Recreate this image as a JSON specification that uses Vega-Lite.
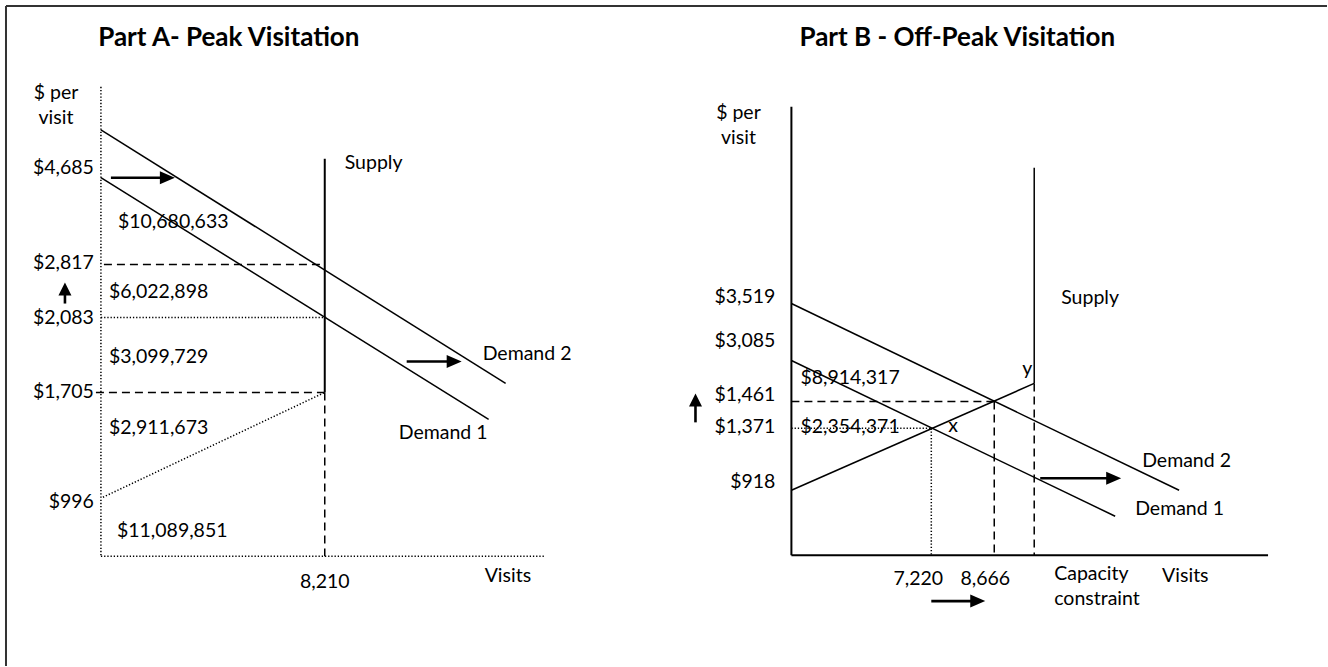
{
  "$schema": "https://vega.github.io/schema/vega-lite/v6.json",
  "width": 1328,
  "height": 667,
  "padding": 0,
  "autosize": {"type": "fit", "contains": "padding"},
  "background": "white",
  "config": {"view": {"stroke": null}},
  "datasets": {
    "segments": [
      {"panel": "frame", "kind": "border", "x": 6, "y": 6, "x2": 1328, "y2": 6},
      {"panel": "frame", "kind": "border", "x": 6, "y": 6, "x2": 6, "y2": 667},
      {"panel": "A", "kind": "dotted", "x": 101, "y": 87, "x2": 101, "y2": 557},
      {"panel": "A", "kind": "dotted", "x": 101, "y": 557, "x2": 545, "y2": 557},
      {"panel": "A", "kind": "solid", "x": 101, "y": 130, "x2": 506, "y2": 384},
      {"panel": "A", "kind": "solid", "x": 101, "y": 178, "x2": 489, "y2": 420},
      {"panel": "A", "kind": "thick", "x": 325, "y": 159, "x2": 325, "y2": 393},
      {"panel": "A", "kind": "dashed", "x": 325, "y": 393, "x2": 325, "y2": 557},
      {"panel": "A", "kind": "dashed", "x": 104, "y": 265, "x2": 325, "y2": 265},
      {"panel": "A", "kind": "dotted", "x": 101, "y": 318, "x2": 328, "y2": 318},
      {"panel": "A", "kind": "dashed", "x": 96, "y": 393, "x2": 325, "y2": 393},
      {"panel": "A", "kind": "dotted", "x": 103, "y": 498, "x2": 325, "y2": 393},
      {"panel": "B", "kind": "thick", "x": 792, "y": 107, "x2": 792, "y2": 556},
      {"panel": "B", "kind": "thick", "x": 792, "y": 556, "x2": 1269, "y2": 556},
      {"panel": "B", "kind": "solid", "x": 792, "y": 304, "x2": 1180, "y2": 491},
      {"panel": "B", "kind": "solid", "x": 792, "y": 361, "x2": 1116, "y2": 517},
      {"panel": "B", "kind": "solid", "x": 792, "y": 491, "x2": 1035, "y2": 384},
      {"panel": "B", "kind": "solid", "x": 1035, "y": 168, "x2": 1035, "y2": 384},
      {"panel": "B", "kind": "dashed", "x": 1035, "y": 384, "x2": 1035, "y2": 556},
      {"panel": "B", "kind": "dashed", "x": 792, "y": 402, "x2": 995, "y2": 402},
      {"panel": "B", "kind": "dashed", "x": 995, "y": 402, "x2": 995, "y2": 556},
      {"panel": "B", "kind": "dotted", "x": 792, "y": 429, "x2": 932, "y2": 429},
      {"panel": "B", "kind": "dotted", "x": 932, "y": 429, "x2": 932, "y2": 556},
      {"panel": "A", "kind": "arrow", "x": 111, "y": 178, "x2": 166, "y2": 178},
      {"panel": "A", "kind": "arrow", "x": 407, "y": 362, "x2": 454, "y2": 362},
      {"panel": "A", "kind": "arrow", "x": 65, "y": 304, "x2": 65, "y2": 290},
      {"panel": "B", "kind": "arrow", "x": 696, "y": 423, "x2": 696, "y2": 401},
      {"panel": "B", "kind": "arrow", "x": 1041, "y": 479, "x2": 1114, "y2": 479},
      {"panel": "B", "kind": "arrow", "x": 932, "y": 602, "x2": 978, "y2": 602}
    ],
    "heads": [
      {"dir": "right", "x": 167.5, "y": 178},
      {"dir": "right", "x": 454.5, "y": 362},
      {"dir": "up", "x": 65, "y": 289.5},
      {"dir": "up", "x": 696, "y": 400.5},
      {"dir": "right", "x": 1114.5, "y": 479},
      {"dir": "right", "x": 978.5, "y": 602}
    ],
    "labels": [
      {"style": "title", "text": "Part A- Peak Visitation", "x": 229, "y": 38},
      {"style": "title", "text": "Part B - Off-Peak Visitation", "x": 958, "y": 38},
      {"style": "right", "text": "$4,685", "x": 94, "y": 168},
      {"style": "right", "text": "$2,817", "x": 94, "y": 263},
      {"style": "right", "text": "$2,083", "x": 94, "y": 318},
      {"style": "right", "text": "$1,705", "x": 94, "y": 393},
      {"style": "right", "text": "$996", "x": 94, "y": 503},
      {"style": "right", "text": "$3,519", "x": 776, "y": 297},
      {"style": "right", "text": "$3,085", "x": 776, "y": 342},
      {"style": "right", "text": "$1,461", "x": 776, "y": 396},
      {"style": "right", "text": "$1,371", "x": 776, "y": 428},
      {"style": "right", "text": "$918", "x": 776, "y": 483},
      {"style": "left", "text": "$10,680,633", "x": 118, "y": 222},
      {"style": "left", "text": "$6,022,898", "x": 109, "y": 292},
      {"style": "left", "text": "$3,099,729", "x": 109, "y": 358},
      {"style": "left", "text": "$2,911,673", "x": 109, "y": 429},
      {"style": "left", "text": "$11,089,851", "x": 117, "y": 532},
      {"style": "left", "text": "Supply", "x": 345, "y": 163},
      {"style": "left", "text": "Demand 2", "x": 483, "y": 355},
      {"style": "left", "text": "Demand 1", "x": 399, "y": 434},
      {"style": "left", "text": "Visits", "x": 485, "y": 577},
      {"style": "left", "text": "$8,914,317", "x": 801, "y": 379},
      {"style": "left", "text": "$2,354,371", "x": 801, "y": 428},
      {"style": "left", "text": "x", "x": 949, "y": 427},
      {"style": "left", "text": "y", "x": 1023, "y": 370},
      {"style": "left", "text": "Supply", "x": 1062, "y": 298},
      {"style": "left", "text": "Demand 2", "x": 1143, "y": 462},
      {"style": "left", "text": "Demand 1", "x": 1136, "y": 510},
      {"style": "left", "text": "Capacity", "x": 1055, "y": 575},
      {"style": "left", "text": "constraint", "x": 1055, "y": 600},
      {"style": "left", "text": "Visits", "x": 1163, "y": 577},
      {"style": "center", "text": "$ per", "x": 56, "y": 93},
      {"style": "center", "text": "visit", "x": 56, "y": 118},
      {"style": "center", "text": "$ per", "x": 739, "y": 113},
      {"style": "center", "text": "visit", "x": 739, "y": 138},
      {"style": "center", "text": "8,210", "x": 325, "y": 583},
      {"style": "center", "text": "7,220", "x": 919, "y": 580},
      {"style": "center", "text": "8,666", "x": 986, "y": 580}
    ]
  },
  "encoding": {
    "x": {"field": "x", "type": "quantitative", "scale": {"domain": [0, 1328], "nice": false, "zero": false}, "axis": null},
    "y": {"field": "y", "type": "quantitative", "scale": {"domain": [0, 667], "nice": false, "zero": false, "reverse": true}, "axis": null}
  },
  "layer": [
    {
      "data": {"name": "segments"},
      "transform": [{"filter": "datum.kind === 'border'"}],
      "mark": {"type": "rule", "color": "#333333", "strokeWidth": 2},
      "encoding": {"x2": {"field": "x2"}, "y2": {"field": "y2"}}
    },
    {
      "data": {"name": "segments"},
      "transform": [{"filter": "datum.kind === 'solid'"}],
      "mark": {"type": "rule", "color": "black", "strokeWidth": 1.5},
      "encoding": {"x2": {"field": "x2"}, "y2": {"field": "y2"}}
    },
    {
      "data": {"name": "segments"},
      "transform": [{"filter": "datum.kind === 'thick'"}],
      "mark": {"type": "rule", "color": "black", "strokeWidth": 2},
      "encoding": {"x2": {"field": "x2"}, "y2": {"field": "y2"}}
    },
    {
      "data": {"name": "segments"},
      "transform": [{"filter": "datum.kind === 'dashed'"}],
      "mark": {"type": "rule", "color": "black", "strokeWidth": 1.5, "strokeDash": [8, 5]},
      "encoding": {"x2": {"field": "x2"}, "y2": {"field": "y2"}}
    },
    {
      "data": {"name": "segments"},
      "transform": [{"filter": "datum.kind === 'dotted'"}],
      "mark": {"type": "rule", "color": "black", "strokeWidth": 1.5, "strokeDash": [1.3, 1.9]},
      "encoding": {"x2": {"field": "x2"}, "y2": {"field": "y2"}}
    },
    {
      "data": {"name": "segments"},
      "transform": [{"filter": "datum.kind === 'arrow'"}],
      "mark": {"type": "rule", "color": "black", "strokeWidth": 2.6},
      "encoding": {"x2": {"field": "x2"}, "y2": {"field": "y2"}}
    },
    {
      "data": {"name": "heads"},
      "transform": [{"filter": "datum.dir === 'right'"}],
      "mark": {"type": "point", "shape": "M-1,-0.87L1,0L-1,0.87Z", "filled": true, "size": 225, "color": "black", "opacity": 1, "strokeWidth": 0}
    },
    {
      "data": {"name": "heads"},
      "transform": [{"filter": "datum.dir === 'up'"}],
      "mark": {"type": "point", "shape": "M-1,1L0,-1L1,1Z", "filled": true, "size": 169, "color": "black", "opacity": 1, "strokeWidth": 0}
    },
    {
      "data": {"name": "labels"},
      "transform": [{"filter": "datum.style === 'title'"}],
      "mark": {"type": "text", "align": "center", "baseline": "middle", "font": "Lato", "fontSize": 26, "fontWeight": "bold", "color": "black"},
      "encoding": {"text": {"field": "text"}}
    },
    {
      "data": {"name": "labels"},
      "transform": [{"filter": "datum.style === 'left'"}],
      "mark": {"type": "text", "align": "left", "baseline": "middle", "font": "Lato", "fontSize": 19.5, "color": "black"},
      "encoding": {"text": {"field": "text"}}
    },
    {
      "data": {"name": "labels"},
      "transform": [{"filter": "datum.style === 'right'"}],
      "mark": {"type": "text", "align": "right", "baseline": "middle", "font": "Lato", "fontSize": 19.5, "color": "black"},
      "encoding": {"text": {"field": "text"}}
    },
    {
      "data": {"name": "labels"},
      "transform": [{"filter": "datum.style === 'center'"}],
      "mark": {"type": "text", "align": "center", "baseline": "middle", "font": "Lato", "fontSize": 19.5, "color": "black"},
      "encoding": {"text": {"field": "text"}}
    }
  ]
}
